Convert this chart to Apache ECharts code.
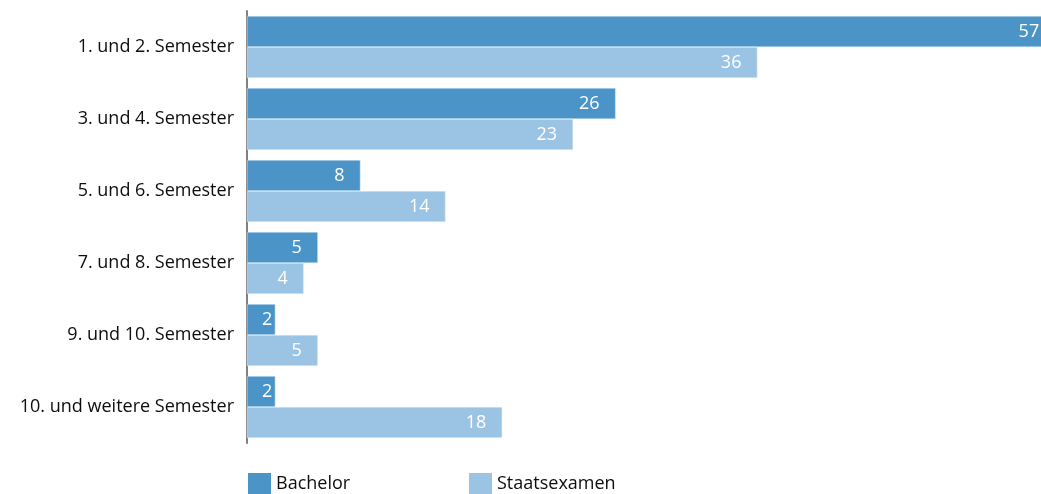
<!DOCTYPE html>
<html>
<head>
<meta charset="utf-8">
<script src="https://cdn.jsdelivr.net/npm/echarts@6/dist/echarts.min.js"></script>
<style>
  html, body { margin: 0; padding: 0; background: #fff; }
  #chart { width: 1041px; height: 494px; }
</style>
</head>
<body>
<div id="chart"></div>
<script>
  const categories = [
    "1. und 2. Semester",
    "3. und 4. Semester",
    "5. und 6. Semester",
    "7. und 8. Semester",
    "9. und 10. Semester",
    "10. und weitere Semester"
  ];
  const bachelor = [57, 26, 8, 5, 2, 2];
  const staatsexamen = [36, 23, 14, 4, 5, 18];
  const seriesNames = ["Bachelor", "Staatsexamen"];
  const colors = ["#4a94c8", "#9bc3e3"];

  const font = "Open Sans";
  const chart = echarts.init(document.getElementById("chart"));

  const barLabel = {
    show: true,
    position: "insideRight",
    distance: 16,
    color: "#fff",
    fontFamily: font,
    fontSize: 18
  };

  // zu schmale Balken: Beschriftung nicht über den Balkenanfang hinaus schieben
  const keepInside = function (params) {
    const minX = params.rect.x + 15;
    if (params.labelRect.x < minX) {
      return { dx: minX - params.labelRect.x };
    }
    return {};
  };

  // eine Legende pro Serie, damit die Positionen genau passen
  const legendItem = (name, left) => ({
    data: [name],
    left: left,
    top: 473,
    padding: 0,
    itemWidth: 23,
    itemHeight: 21,
    icon: "rect",
    itemStyle: { borderWidth: 0 },
    textStyle: { fontSize: 18, color: "#0d0d0d", fontFamily: font, padding: [4, 0, 0, 0] }
  });

  const option = {
    animation: false,
    textStyle: { fontFamily: font },
    grid: { left: 247, right: 0, top: 11, bottom: 51 },
    xAxis: {
      type: "value",
      min: 0,
      max: 56,
      show: false
    },
    yAxis: {
      type: "category",
      inverse: true,
      data: categories,
      axisLine: { show: true, lineStyle: { color: "#808080", width: 2 } },
      axisTick: { show: false },
      axisLabel: { color: "#0d0d0d", fontSize: 18, fontFamily: font, margin: 13 }
    },
    legend: [legendItem(seriesNames[0], 248), legendItem(seriesNames[1], 469)],
    series: [
      {
        name: seriesNames[0],
        type: "bar",
        data: bachelor,
        clip: false, // der längste Balken läuft wie im Original über den Rand hinaus
        barGap: "0%",
        barCategoryGap: "14%",
        itemStyle: { color: colors[0], borderColor: "#dceaf5", borderWidth: 0.5 },
        label: barLabel,
        labelLayout: keepInside
      },
      {
        name: seriesNames[1],
        type: "bar",
        data: staatsexamen,
        clip: false,
        barGap: "0%",
        barCategoryGap: "14%",
        itemStyle: { color: colors[1], borderColor: "#e8f1f9", borderWidth: 0.5 },
        label: barLabel,
        labelLayout: keepInside
      }
    ]
  };

  chart.setOption(option);
</script>
</body>
</html>
